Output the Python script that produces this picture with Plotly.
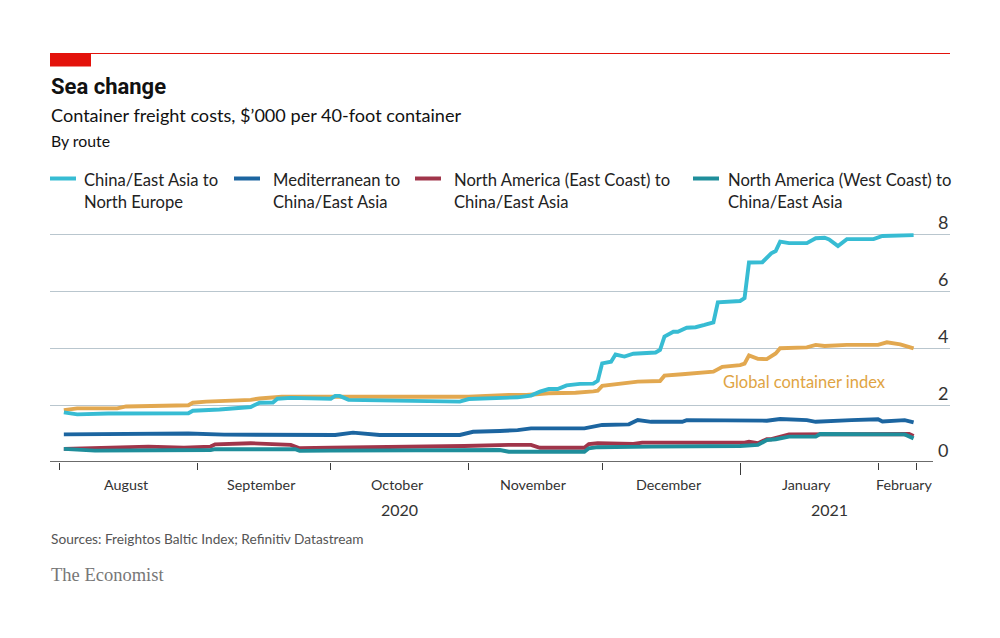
import plotly.graph_objects as go

# ---------------- data ----------------
cn_eu_dates = ["2020-08-02","2020-08-05","2020-08-12","2020-08-21","2020-08-30","2020-08-31","2020-09-06",
               "2020-09-13","2020-09-15","2020-09-18","2020-09-19","2020-09-22","2020-09-28","2020-10-01",
               "2020-10-02","2020-10-03","2020-10-05","2020-10-16","2020-10-30","2020-11-01","2020-11-04",
               "2020-11-06","2020-11-12","2020-11-15","2020-11-17","2020-11-19","2020-11-21","2020-11-23",
               "2020-11-26","2020-11-29","2020-11-30","2020-12-01","2020-12-03","2020-12-04","2020-12-06",
               "2020-12-08","2020-12-13","2020-12-14","2020-12-15","2020-12-17","2020-12-18","2020-12-20",
               "2020-12-22","2020-12-24","2020-12-26","2020-12-27","2020-12-29","2021-01-01","2021-01-02",
               "2021-01-03","2021-01-06","2021-01-08","2021-01-09","2021-01-10","2021-01-12","2021-01-16",
               "2021-01-18","2021-01-20","2021-01-21","2021-01-23","2021-01-25","2021-01-31","2021-02-02",
               "2021-02-05","2021-02-09"]
cn_eu_vals = [1.74,1.67,1.70,1.72,1.71,1.80,1.84,
              1.93,2.08,2.09,2.22,2.25,2.21,2.22,
              2.32,2.32,2.18,2.14,2.12,2.21,2.23,
              2.21,2.27,2.33,2.47,2.56,2.56,2.69,
              2.74,2.75,2.85,3.46,3.52,3.77,3.70,
              3.80,3.84,3.93,4.40,4.57,4.57,4.71,
              4.73,4.81,4.90,5.60,5.63,5.65,5.75,
              7.00,7.01,7.32,7.40,7.73,7.68,7.68,
              7.85,7.87,7.81,7.58,7.82,7.82,7.93,
              7.94,7.96]

med_dates = ["2020-08-02","2020-08-30","2020-09-07","2020-10-02","2020-10-06","2020-10-12","2020-10-30",
             "2020-11-02","2020-11-08","2020-11-12","2020-11-15","2020-11-27","2020-12-01","2020-12-07",
             "2020-12-09","2020-12-12","2020-12-19","2020-12-20","2021-01-07","2021-01-10","2021-01-16",
             "2021-01-18","2021-01-26","2021-02-01","2021-02-02","2021-02-07","2021-02-09"]
med_vals = [0.97,1.00,0.96,0.95,1.03,0.95,0.95,
            1.06,1.09,1.12,1.18,1.18,1.30,1.32,
            1.47,1.41,1.41,1.47,1.45,1.51,1.47,
            1.41,1.47,1.50,1.42,1.47,1.39]

nae_dates = ["2020-08-02","2020-08-09","2020-08-21","2020-08-29","2020-09-04","2020-09-05","2020-09-13",
             "2020-09-22","2020-09-24","2020-10-01","2020-10-29","2020-10-31","2020-11-10","2020-11-15",
             "2020-11-17","2020-11-27","2020-11-28","2020-11-30","2020-12-08","2020-12-10","2021-01-02",
             "2021-01-03","2021-01-05","2021-01-07","2021-01-08","2021-01-12","2021-02-08","2021-02-09"]
nae_vals = [0.46,0.48,0.54,0.50,0.54,0.62,0.66,
            0.60,0.48,0.50,0.54,0.56,0.60,0.60,
            0.50,0.50,0.63,0.66,0.63,0.68,0.68,
            0.71,0.66,0.80,0.80,0.97,0.98,0.91]

naw_dates = ["2020-08-02","2020-08-09","2020-09-04","2020-09-05","2020-09-23","2020-09-24","2020-10-01",
             "2020-11-08","2020-11-10","2020-11-27","2020-11-28","2020-11-30","2020-12-12","2021-01-01",
             "2021-01-05","2021-01-07","2021-01-09","2021-01-12","2021-01-18","2021-01-19","2021-02-07",
             "2021-02-09"]
naw_vals = [0.46,0.40,0.42,0.45,0.45,0.39,0.40,
            0.42,0.36,0.36,0.48,0.52,0.54,0.56,
            0.60,0.77,0.80,0.89,0.89,0.98,0.97,
            0.83]

glob_dates = ["2020-08-02","2020-08-05","2020-08-14","2020-08-16","2020-08-30","2020-08-31","2020-09-03",
              "2020-09-13","2020-09-15","2020-09-19","2020-09-20","2020-10-08","2020-11-01","2020-11-10",
              "2020-11-14","2020-11-19","2020-11-25","2020-11-29","2020-11-30","2020-12-01","2020-12-05",
              "2020-12-09","2020-12-14","2020-12-15","2020-12-19","2020-12-22","2020-12-26","2020-12-28",
              "2021-01-01","2021-01-02","2021-01-03","2021-01-05","2021-01-07","2021-01-09","2021-01-10",
              "2021-01-16","2021-01-18","2021-01-20","2021-01-25","2021-02-01","2021-02-03","2021-02-06",
              "2021-02-09"]
glob_vals = [1.82,1.88,1.88,1.95,1.99,2.08,2.12,
             2.18,2.23,2.27,2.29,2.29,2.29,2.35,
             2.35,2.41,2.43,2.48,2.50,2.67,2.74,
             2.82,2.84,3.03,3.08,3.13,3.17,3.34,
             3.40,3.45,3.74,3.62,3.61,3.81,3.99,
             4.02,4.11,4.07,4.11,4.11,4.20,4.13,
             3.99]

series_names = ["China/East Asia to<br>North Europe",
                "Mediterranean to<br>China/East Asia",
                "North America (East Coast) to<br>China/East Asia",
                "North America (West Coast) to<br>China/East Asia"]
series_colors = ["#37bcd3", "#1c65a0", "#a0354a", "#1f8e9b"]
glob_color = "#e2a850"

y_ticks = [0, 2, 4, 6, 8]
month_starts = ["2020-08-01","2020-09-01","2020-10-01","2020-11-01","2020-12-01","2021-02-01","2021-02-09 13:30"]
year_start = ["2021-01-01"]
month_labels = ["August","September","October","November","December","January","February"]
month_label_pos = ["2020-08-16","2020-09-15 12:00","2020-10-16","2020-11-15 12:00","2020-12-16","2021-01-16","2021-02-07"]
year_labels = ["2020", "2021"]
year_label_pos = ["2020-10-16 12:00", "2021-01-21"]

# ---------------- layout helpers ----------------
FONT = "Lato, sans-serif"
L, R, T, B = 50, 50, 214, 176
W, H = 1000, 638
PW, PH = W - L - R, H - T - B

def px(x):
    return (x - L) / PW

def py(y):
    return (H - B - y) / PH

fig = go.Figure()

order = [("glob", glob_dates, glob_vals, glob_color, "Global container index"),
         ("nae", nae_dates, nae_vals, series_colors[2], series_names[2]),
         ("naw", naw_dates, naw_vals, series_colors[3], series_names[3]),
         ("med", med_dates, med_vals, series_colors[1], series_names[1]),
         ("cn", cn_eu_dates, cn_eu_vals, series_colors[0], series_names[0])]
for key, xs, ys, col, nm in order:
    fig.add_trace(go.Scatter(x=xs, y=ys, mode="lines", name=nm,
                             line=dict(color=col, width=3.9), showlegend=False,
                             hoverinfo="skip"))

ann = []
shapes = []
# header rule and red tab
shapes.append(dict(type="line", xref="paper", yref="paper", x0=px(50), x1=px(950), y0=py(53.5), y1=py(53.5),
                   line=dict(color="#e3120b", width=1)))
shapes.append(dict(type="rect", xref="paper", yref="paper", x0=px(50), x1=px(91), y0=py(53), y1=py(66.5),
                   fillcolor="#e3120b", line=dict(width=0)))
# x axis line
shapes.append(dict(type="line", xref="paper", yref="y", x0=0, x1=px(933), y0=0, y1=0,
                   line=dict(color="#3a3a3a", width=1.3), layer="above"))

ann.append(dict(text="<b>Sea change</b>", x=px(49), y=py(87), font=dict(family="Roboto, Lato, sans-serif", size=22, color="#111")))
ann.append(dict(text="Container freight costs, $’000 per 40-foot container", x=px(49), y=py(114.5),
                font=dict(family=FONT, size=18.1, color="#111")))
ann.append(dict(text="By route", x=px(49), y=py(140), font=dict(family=FONT, size=15.8, color="#111")))

# legend
leg_x = [50, 234, 415, 693]
leg_tx = [82, 271, 452, 726]
for i in range(4):
    shapes.append(dict(type="line", xref="paper", yref="paper", x0=px(leg_x[i]), x1=px(leg_x[i] + 26),
                       y0=py(178.5), y1=py(178.5), line=dict(color=series_colors[i], width=4)))
    ann.append(dict(text=series_names[i], x=px(leg_tx[i]), y=py(190.5), align="left",
                    font=dict(family=FONT, size=16.6, color="#222")))

# inline label
ann.append(dict(text="Global container index", x=px(721), y=py(382), font=dict(family=FONT, size=16.5, color="#e0a443")))

for t, pos in zip(month_labels, month_label_pos):
    ann.append(dict(text=t, x=pos, xref="x", y=py(484), xanchor="center", font=dict(family=FONT, size=14.3, color="#333")))
for t, pos in zip(year_labels, year_label_pos):
    ann.append(dict(text=t, x=pos, xref="x", y=py(509), xanchor="center", font=dict(family=FONT, size=16, color="#333")))

ann.append(dict(text="Sources: Freightos Baltic Index; Refinitiv Datastream", x=px(49), y=py(538),
                font=dict(family=FONT, size=13.7, color="#555")))
ann.append(dict(text="The Economist", x=px(49), y=py(575),
                font=dict(family="Liberation Serif, DejaVu Serif, serif", size=18.5, color="#777")))

annotations = []
for a in ann:
    d = dict(xref="paper", yref="paper", xanchor="left", yanchor="middle", showarrow=False)
    d.update(a)
    annotations.append(d)

# y-axis value labels, sitting just above their gridlines at the right edge
for v in y_ticks:
    annotations.append(dict(text=str(v), xref="paper", x=1.0, yref="y", y=v, xanchor="right",
                            yanchor="bottom", yshift=-1, showarrow=False,
                            font=dict(family=FONT, size=18, color="#333")))

fig.update_layout(
    width=W, height=H, margin=dict(l=L, r=R, t=T, b=B, pad=0),
    paper_bgcolor="white", plot_bgcolor="white",
    annotations=annotations, shapes=shapes,
    xaxis=dict(type="date", range=["2020-07-29 21:20", "2021-02-17 04:20"],
               showgrid=False, zeroline=False, showline=False,
               tickmode="array", tickvals=year_start, ticks="outside", ticklen=12,
               tickcolor="#3a3a3a", tickwidth=1.2, showticklabels=False,
               minor=dict(tickmode="array", tickvals=month_starts, ticks="outside", ticklen=7,
                          tickcolor="#3a3a3a", tickwidth=1.2, showgrid=False)),
    yaxis=dict(range=[0, 8 * PH / 228], tickmode="array", tickvals=y_ticks,
               showgrid=True, gridcolor="#b9c6ce", gridwidth=1.2,
               zeroline=False, showline=False, ticks="", showticklabels=False),
    showlegend=False,
)

fig.write_html("out.html", config={"displayModeBar": False},
               post_script="document.body.style.margin='0';document.body.style.padding='0';")
